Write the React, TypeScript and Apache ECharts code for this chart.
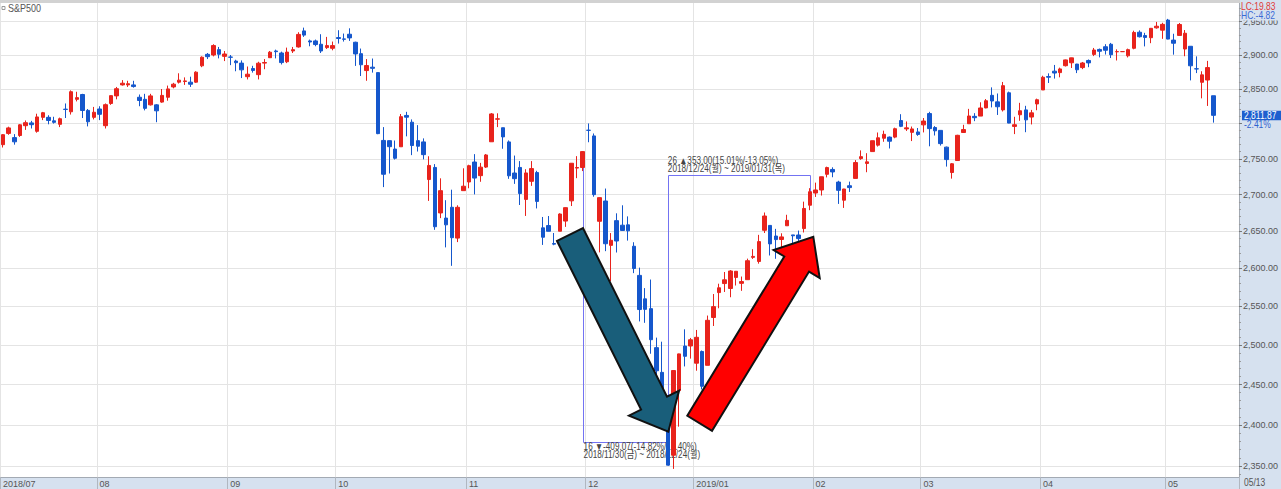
import React, { useEffect, useRef } from 'react';
import * as echarts from 'echarts';

const W = 1281;
const H = 489;

// ---- categories (trading days) ----
const monthKeys = ['2018/07', '2018/08', '2018/09', '2018/10', '2018/11', '2018/12', '2019/01', '2019/02', '2019/03', '2019/04', '2019/05'];
const monthLabels = ['2018/07', '08', '09', '10', '11', '12', '2019/01', '02', '03', '04', '05'];
const monthDays: number[][] = [
  [9, 10, 11, 12, 13, 16, 17, 18, 19, 20, 23, 24, 25, 26, 27, 30, 31],
  [1, 2, 3, 6, 7, 8, 9, 10, 13, 14, 15, 16, 17, 20, 21, 22, 23, 24, 27, 28, 29, 30, 31],
  [4, 5, 6, 7, 10, 11, 12, 13, 14, 17, 18, 19, 20, 21, 24, 25, 26, 27, 28],
  [1, 2, 3, 4, 5, 8, 9, 10, 11, 12, 15, 16, 17, 18, 19, 22, 23, 24, 25, 26, 29, 30, 31],
  [1, 2, 5, 6, 7, 8, 9, 12, 13, 14, 15, 16, 19, 20, 21, 23, 26, 27, 28, 29, 30],
  [3, 4, 6, 7, 10, 11, 12, 13, 14, 17, 18, 19, 20, 21, 24, 26, 27, 28, 31],
  [2, 3, 4, 7, 8, 9, 10, 11, 14, 15, 16, 17, 18, 22, 23, 24, 25, 28, 29, 30, 31],
  [1, 4, 5, 6, 7, 8, 11, 12, 13, 14, 15, 19, 20, 21, 22, 25, 26, 27, 28],
  [1, 4, 5, 6, 7, 8, 11, 12, 13, 14, 15, 18, 19, 20, 21, 22, 25, 26, 27, 28, 29],
  [1, 2, 3, 4, 5, 8, 9, 10, 11, 12, 15, 16, 17, 18, 19, 22, 23, 24, 25, 26, 29, 30],
  [1, 2, 3, 6, 7, 8, 9, 10, 13],
];
const emptySlots = 4;

// ---- OHLC ----
const opens = [
  2770, 2786, 2780, 2783, 2797, 2801, 2789, 2809, 2809, 2804, 2799, 2820.7, 2817, 2835, 2842, 2819, 2809,
  2821, 2797, 2829, 2840, 2856, 2856, 2856, 2838, 2835, 2827, 2827, 2831, 2838, 2853, 2860, 2861, 2860, 2860, 2884, 2901, 2900, 2908, 2898,
  2897, 2891, 2888, 2868, 2880, 2871, 2888, 2896, 2906, 2903, 2890, 2906, 2912, 2936, 2921, 2921, 2916, 2911, 2910,
  2926, 2924, 2931, 2919, 2902, 2877, 2882, 2874, 2776, 2775.7, 2763.8, 2767, 2811.7, 2802, 2775.7, 2773.9, 2721, 2737.9, 2674.9, 2667.9, 2682.7, 2640.7, 2705.6,
  2717.6, 2745.5, 2726.4, 2738.4, 2774.1, 2806.4, 2794.1, 2773.9, 2730.1, 2737.9, 2693.5, 2718.5, 2730.7, 2654.6, 2657.7, 2633.4, 2650, 2663.8, 2691.5, 2737, 2737.8,
  2790.5, 2782.4, 2663.5, 2691.3, 2630.9, 2664.4, 2658.2, 2658.7, 2629.7, 2590.8, 2559.9, 2547.1, 2496.8, 2465.4, 2400.6, 2363.1, 2442.5, 2498.8, 2498.9,
  2477, 2491.9, 2474.3, 2535.6, 2568.1, 2580, 2573.5, 2588.1, 2580.3, 2585.1, 2614.8, 2609.3, 2651.3, 2657.9, 2643.5, 2638.8, 2657.4, 2645, 2644.9, 2653.6, 2685.5,
  2702.3, 2706.5, 2728.3, 2735.1, 2717.5, 2692.4, 2712.4, 2722.6, 2750.3, 2743.5, 2760.2, 2769.3, 2779.1, 2780.7, 2780.7, 2804.4, 2792.4, 2787.5, 2788.1,
  2798.2, 2814.4, 2794.4, 2790.3, 2766.5, 2730.8, 2747.6, 2787.3, 2799.8, 2810.4, 2810.8, 2822.6, 2840.8, 2831.3, 2819.7, 2844.5, 2796, 2812.7, 2819.7, 2809.4, 2828.3,
  2848.6, 2868.2, 2876.1, 2874, 2884.2, 2888.5, 2886.6, 2881.4, 2891.9, 2900.9, 2908.3, 2912.3, 2916, 2904.8, 2905.03, 2898.8, 2910, 2934, 2929, 2925.8, 2940.6, 2937.1,
  2952.3, 2922.2, 2929.2, 2908.9, 2913, 2879.6, 2859.8, 2863.1, 2840.2,
];
const closes = [
  2784.17, 2793.84, 2774.02, 2798.29, 2801.31, 2798.43, 2809.55, 2815.62, 2804.49, 2801.83, 2806.98, 2820.4, 2846.07, 2837.44, 2818.82, 2802.6, 2816.29,
  2813.36, 2827.22, 2840.35, 2850.4, 2858.45, 2857.7, 2853.58, 2833.28, 2821.93, 2839.96, 2818.37, 2840.69, 2850.13, 2857.05, 2862.96, 2861.82, 2856.98, 2874.69, 2896.74, 2897.52, 2914.04, 2901.13, 2901.52,
  2896.72, 2888.6, 2878.05, 2871.68, 2877.13, 2887.89, 2888.92, 2904.18, 2904.98, 2888.8, 2904.31, 2907.95, 2930.75, 2929.67, 2919.37, 2915.56, 2905.97, 2914.0, 2913.98,
  2924.59, 2923.43, 2925.51, 2901.61, 2885.57, 2884.43, 2880.34, 2785.68, 2728.37, 2767.13, 2750.79, 2809.92, 2809.21, 2768.78, 2767.78, 2755.88, 2740.69, 2656.1, 2705.57, 2658.69, 2641.25, 2682.63, 2711.74,
  2740.37, 2723.06, 2738.31, 2755.45, 2813.89, 2806.83, 2781.01, 2726.22, 2722.18, 2701.58, 2730.2, 2736.27, 2690.73, 2641.89, 2649.93, 2632.56, 2673.45, 2682.17, 2743.79, 2737.8, 2760.17,
  2790.37, 2700.06, 2695.95, 2633.08, 2637.72, 2636.78, 2651.07, 2650.54, 2599.95, 2545.94, 2546.16, 2506.96, 2467.42, 2416.62, 2351.1, 2467.7, 2488.83, 2485.74, 2506.85,
  2510.03, 2447.89, 2531.94, 2549.69, 2574.41, 2584.96, 2596.64, 2596.26, 2582.61, 2610.3, 2616.1, 2635.96, 2670.71, 2632.9, 2638.7, 2642.33, 2664.76, 2643.85, 2640.0, 2681.05, 2704.1,
  2706.53, 2724.87, 2737.7, 2731.61, 2706.05, 2707.88, 2709.8, 2744.73, 2753.03, 2745.73, 2775.6, 2779.76, 2784.7, 2774.88, 2792.67, 2796.11, 2793.9, 2792.38, 2784.49,
  2803.69, 2792.81, 2789.65, 2771.45, 2748.93, 2743.07, 2783.3, 2791.52, 2810.92, 2808.48, 2822.48, 2832.94, 2832.57, 2824.23, 2854.88, 2800.71, 2798.36, 2818.46, 2805.37, 2815.44, 2834.4,
  2867.19, 2867.24, 2873.4, 2879.39, 2892.74, 2895.77, 2878.2, 2888.21, 2888.32, 2907.41, 2905.58, 2907.06, 2900.45, 2905.03, 2905.03, 2907.97, 2933.68, 2927.25, 2926.17, 2939.88, 2943.03, 2945.83,
  2923.73, 2917.52, 2945.64, 2932.47, 2884.05, 2879.42, 2870.72, 2881.4, 2811.87,
];
const highs = [
  2785, 2795.6, 2785, 2799.2, 2804.5, 2803.9, 2814.2, 2816.8, 2812, 2809.8, 2808.6, 2829, 2848, 2846, 2843, 2821, 2824,
  2825, 2829, 2840.4, 2853, 2863, 2862, 2862, 2842, 2843, 2843, 2828, 2850, 2855, 2859, 2873, 2867, 2868, 2876, 2898, 2903, 2916, 2912, 2906,
  2900, 2893, 2892, 2883, 2884, 2890, 2894, 2906, 2908, 2905, 2911, 2912, 2934, 2940.9, 2923, 2923, 2931, 2927, 2920,
  2937, 2932, 2939.9, 2919.8, 2909.6, 2894, 2894.8, 2874, 2795, 2775.8, 2775.9, 2813.8, 2816.9, 2806, 2797.8, 2778.9, 2753.6, 2742.6, 2722.7, 2692.4, 2706.9, 2685.4, 2736.7,
  2741.7, 2756.6, 2744.3, 2756.8, 2815.2, 2814.8, 2794.1, 2776, 2754.6, 2746.8, 2735.4, 2746.8, 2733.2, 2669.4, 2670.7, 2647.6, 2674.4, 2682.5, 2744, 2753.8, 2760.9,
  2800.2, 2785.9, 2696.2, 2708.5, 2647.5, 2674.4, 2685.4, 2670.2, 2635.1, 2601.1, 2574, 2585.3, 2509.6, 2504.4, 2410.3, 2467.8, 2489.1, 2520.3, 2509.2,
  2519.5, 2493.1, 2538.1, 2566.2, 2579.8, 2595.3, 2597.8, 2596.3, 2589.3, 2613.1, 2625.8, 2645.1, 2675.5, 2657.9, 2653.2, 2647.2, 2672.4, 2645, 2650.9, 2690.4, 2709,
  2716.7, 2725, 2739, 2738.1, 2719.3, 2708.1, 2718.1, 2748.2, 2761.9, 2757.9, 2775.7, 2787.3, 2789.9, 2781.6, 2794.2, 2813.5, 2803.1, 2795.8, 2793.7,
  2808, 2816.9, 2796.4, 2790.3, 2767.3, 2744.1, 2784, 2798.3, 2821.2, 2815, 2830.7, 2835.4, 2852.4, 2843.5, 2860.3, 2846.2, 2809.8, 2829.9, 2825.6, 2819.7, 2836,
  2869.4, 2872.9, 2885.3, 2881.3, 2893.2, 2896, 2886.9, 2889.7, 2893.4, 2910.5, 2909.6, 2916.1, 2918, 2908.4, 2905.03, 2909.5, 2936.3, 2936.8, 2933.1, 2939.9, 2949.5, 2948.2,
  2954.1, 2931.7, 2947.9, 2937.3, 2913, 2898, 2876, 2891.3, 2840.2,
];
const lows = [
  2766, 2784, 2770, 2781, 2791, 2793, 2787, 2805, 2799, 2800, 2795, 2808, 2813, 2832, 2808, 2796, 2806,
  2805, 2793, 2827, 2835, 2855, 2853, 2852, 2825, 2819, 2826, 2802, 2830, 2833, 2851, 2858, 2856, 2853, 2859, 2882, 2894, 2898, 2895, 2891,
  2885, 2876, 2866, 2864, 2874, 2864, 2879, 2896, 2895, 2886, 2888, 2903, 2911, 2927, 2913, 2913, 2903, 2909, 2907,
  2917, 2920, 2921, 2883.9, 2869, 2862, 2874, 2784.9, 2710.5, 2729.4, 2749, 2766.9, 2781.8, 2755.2, 2760.3, 2749.2, 2691.4, 2651.9, 2667.8, 2628.2, 2603.5, 2635.3, 2705.6,
  2708.9, 2700.4, 2717.9, 2737.1, 2774.1, 2795, 2764.2, 2722, 2715, 2685.8, 2670.8, 2712.2, 2681.1, 2631.5, 2649.8, 2631.1, 2650, 2655.9, 2684.4, 2722.9, 2732.8,
  2773.4, 2697.2, 2621.5, 2623.1, 2583.2, 2621.3, 2650.3, 2637.3, 2593.8, 2530.5, 2528.7, 2489, 2441.2, 2408.6, 2351.1, 2346.6, 2397.9, 2472.9, 2482.8,
  2467.5, 2444, 2474.3, 2524.6, 2547.6, 2568.9, 2562, 2577.4, 2570.4, 2585.1, 2612.7, 2606.4, 2647.6, 2617.3, 2612.9, 2627, 2657.3, 2624.1, 2631.1, 2648.3, 2678.7,
  2696.9, 2698.8, 2724, 2724.2, 2687.3, 2681.8, 2703.8, 2722.6, 2748.6, 2731.2, 2760.2, 2767.3, 2774.1, 2764.6, 2779.1, 2795, 2789.5, 2775.1, 2782.5,
  2787.4, 2767.7, 2783, 2768.7, 2739.1, 2722.3, 2747.6, 2786.7, 2799.8, 2803.5, 2810.8, 2822, 2823.3, 2812.4, 2817.4, 2800.5, 2785, 2804, 2787.7, 2798.8, 2819.2,
  2848.6, 2858.8, 2865.2, 2867.1, 2883, 2880.8, 2873.3, 2879.1, 2882, 2898.4, 2896.5, 2900.7, 2895.5, 2891.9, 2905.03, 2896.4, 2908.5, 2926.1, 2912.8, 2917.6, 2939.4, 2924.1,
  2923.4, 2900.5, 2929.2, 2898.2, 2862.6, 2873.3, 2836.4, 2825.4, 2801.4,
];

// ---- axis ----
const yTicks = [2350, 2400, 2450, 2500, 2550, 2600, 2650, 2700, 2750, 2800, 2850, 2900, 2950];
const yMin = 2336.9;
const yMax = 2978.2;

// ---- annotations ----
const dropStartIdx = 102; // 2018/11/30
const dropEndIdx = 117; // 2018/12/24
const dropBoxLevel = 2379.6;
const dropLine1 = '16 ▼-409.07(-14.82%/17.40%)';
const dropLine2 = '2018/11/30(금) ~ 2018/12/24(월)';
const riseStartIdx = 117;
const riseEndIdx = 142; // 2019/01/31
const riseBoxLevel = 2727.3;
const riseLine1 = '26 ▲353.00(15.01%/-13.05%)';
const riseLine2 = '2018/12/24(월) ~ 2019/01/31(목)';
const titleText = 'S&P500';
const lcText = 'LC:19.83';
const hcText = 'HC:-4.82';
const lastPriceText = '2,811.87';
const lastChangeText = '-2.41%';
const lastDateText = '05/13';

const FONT = "'Liberation Sans', Arial, 'Noto Sans CJK KR', sans-serif";
const UP = '#e8231c';
const DOWN = '#1557cc';
const PANEL = '#d6e1ef';
const GRIDC = '#e4e4e4';

function arrowPoints(tx: number, ty: number, hx: number, hy: number, sw: number, hw: number, hl: number) {
  const dx = hx - tx;
  const dy = hy - ty;
  const L = Math.hypot(dx, dy);
  const ux = dx / L;
  const uy = dy / L;
  const nx = -uy;
  const ny = ux;
  const bx = hx - ux * hl;
  const by = hy - uy * hl;
  return [
    [tx + (nx * sw) / 2, ty + (ny * sw) / 2],
    [bx + (nx * sw) / 2, by + (ny * sw) / 2],
    [bx + (nx * hw) / 2, by + (ny * hw) / 2],
    [hx, hy],
    [bx - (nx * hw) / 2, by - (ny * hw) / 2],
    [bx - (nx * sw) / 2, by - (ny * sw) / 2],
    [tx - (nx * sw) / 2, ty - (ny * sw) / 2],
  ];
}

export default function App() {
  const ref = useRef<HTMLDivElement>(null);

  useEffect(() => {
    document.body.style.margin = '0';
    const chart = echarts.init(ref.current!, null, { renderer: 'svg', width: W, height: H });

    const categories: string[] = [];
    const monthStart = new Map<number, string>();
    monthKeys.forEach((mk, mi) => {
      monthStart.set(categories.length, monthLabels[mi]);
      monthDays[mi].forEach((d) => categories.push(`${mk}/${String(d).padStart(2, '0')}`));
    });
    for (let i = 0; i < emptySlots; i++) categories.push(`blank${i}`);

    const minorTicks: number[] = [];
    for (let v = 2340; v <= 2970; v += 10) if (v % 50 !== 0) minorTicks.push(v);

    const data = opens.map((o, i) => [o, closes[i], lows[i], highs[i]]);
    const isStart = (i: number) => monthStart.has(i);

    chart.setOption({
      animation: false,
      backgroundColor: PANEL,
      grid: { left: 0, right: 41, top: 3, bottom: 12, show: true, backgroundColor: '#ffffff', borderWidth: 0 },
      xAxis: {
        type: 'category',
        data: categories,
        boundaryGap: true,
        axisLine: { show: true, lineStyle: { color: '#a3aab3' } },
        axisTick: { show: true, interval: isStart, length: 12, lineStyle: { color: '#b0b7c0' } },
        axisLabel: {
          interval: isStart,
          formatter: (_v: string, i: number) => monthStart.get(i) ?? '',
          align: 'left',
          margin: 2,
          color: '#555',
          fontSize: 9,
          fontFamily: FONT,
        },
        splitLine: { show: true, interval: isStart, lineStyle: { color: GRIDC } },
      },
      yAxis: [
        {
          type: 'log',
          logBase: 10,
          min: yMin,
          max: yMax,
          position: 'right',
          axisLine: { show: true, lineStyle: { color: '#a3aab3' } },
          axisTick: { show: true, customValues: yTicks, length: 3, lineStyle: { color: '#777' } },
          axisLabel: {
            customValues: yTicks,
            formatter: (v: number) =>
              Number(v).toLocaleString('en-US', { minimumFractionDigits: 2, maximumFractionDigits: 2 }),
            margin: 4,
            color: '#555',
            fontSize: 9,
            fontFamily: FONT,
          },
          splitLine: { show: true, lineStyle: { color: GRIDC } },
        },
        {
          type: 'log',
          logBase: 10,
          min: yMin,
          max: yMax,
          position: 'right',
          axisLine: { show: false },
          axisTick: { show: true, customValues: minorTicks, length: 2, lineStyle: { color: '#999' } },
          axisLabel: { show: false },
          splitLine: { show: false },
        },
      ],
      series: [
        {
          type: 'candlestick',
          data,
          barWidth: 4,
          itemStyle: { color: UP, color0: DOWN, borderColor: UP, borderColor0: DOWN, borderWidth: 1 },
        },
      ],
    });

    const px = (i: number, v: number) => chart.convertToPixel({ seriesIndex: 0 }, [i, v]) as number[];

    const d1 = px(dropStartIdx, closes[dropStartIdx]);
    const d2 = px(dropStartIdx, dropBoxLevel);
    const d3 = px(dropEndIdx, dropBoxLevel);
    const d4 = px(dropEndIdx, closes[dropEndIdx]);
    const r1 = px(riseStartIdx, closes[riseStartIdx]);
    const r2 = px(riseStartIdx, riseBoxLevel);
    const r3 = px(riseEndIdx, riseBoxLevel);
    const r4 = px(riseEndIdx, closes[riseEndIdx]);
    const last = px(closes.length - 1, closes[closes.length - 1]);

    const snap = (p: number[]) => [Math.round(p[0]) + 0.5, Math.round(p[1]) + 0.5];
    const boxStyle = { stroke: '#7373f2', fill: null, lineWidth: 1 };
    const txt = (x: number, y: number, text: string, fill: string, z: number, size = 10, sx = 0.82) => ({
      type: 'text',
      x,
      y,
      scaleX: sx,
      z,
      silent: true,
      style: { text, fill, fontSize: size, fontFamily: FONT, textVerticalAlign: 'middle' },
    });

    const elements: any[] = [
      { type: 'rect', z: 50, silent: true, shape: { x: 0, y: 0, width: 1240, height: 3 }, style: { fill: '#d2d2d2' } },
      { type: 'rect', z: 50, silent: true, shape: { x: 2, y: 6.5, width: 3, height: 3 }, style: { fill: '#fff', stroke: '#999', lineWidth: 1 } },
      txt(8, 8.5, titleText, '#555', 50, 10, 0.9),
      { type: 'polyline', z: 1, silent: true, shape: { points: [d1, d2, d3, d4].map(snap) }, style: boxStyle },
      { type: 'polyline', z: 1, silent: true, shape: { points: [r1, r2, r3, r4].map(snap) }, style: boxStyle },
      txt(d2[0] + 1, d2[1] + 5.5, dropLine1, '#444', 1),
      txt(d2[0] + 1, d2[1] + 13.5, dropLine2, '#444', 1),
      txt(r2[0], r2[1] - 14.5, riseLine1, '#444', 1),
      txt(r2[0], r2[1] - 6, riseLine2, '#444', 1),
      {
        type: 'polygon',
        z: 100,
        silent: true,
        shape: { points: arrowPoints(570, 234.5, 668.3, 431.7, 29, 56, 32) },
        style: { fill: '#195e7a', stroke: '#111', lineWidth: 2, lineJoin: 'miter' },
      },
      {
        type: 'polygon',
        z: 100,
        silent: true,
        shape: { points: arrowPoints(699.7, 423.3, 813.3, 236.7, 29, 54, 32) },
        style: { fill: '#ff0000', stroke: '#111', lineWidth: 2, lineJoin: 'miter' },
      },
      { type: 'rect', z: 100, silent: true, shape: { x: 1241, y: 0, width: 40, height: 20.5 }, style: { fill: PANEL } },
      txt(1241, 6.3, lcText, '#e0393a', 101, 10, 0.85),
      txt(1241, 15.8, hcText, '#3a6ad6', 101, 10, 0.85),
      { type: 'rect', z: 100, silent: true, shape: { x: 1242, y: last[1] + 4.5, width: 39, height: 9 }, style: { fill: PANEL } },
      { type: 'rect', z: 100, silent: true, shape: { x: 1242, y: last[1] - 4.5, width: 39, height: 9.5 }, style: { fill: '#1d5fcf' } },
      txt(1244, last[1] + 0.3, lastPriceText, '#ffffff', 101, 10, 0.85),
      txt(1244, last[1] + 9, lastChangeText, '#2f62d0', 101, 10, 0.85),
      txt(1244, 483, lastDateText, '#555', 101, 10, 0.85),
    ];

    chart.setOption({ graphic: { elements } });

    return () => chart.dispose();
  }, []);

  return <div ref={ref} style={{ position: 'absolute', left: 0, top: 0, width: W, height: H }} />;
}
